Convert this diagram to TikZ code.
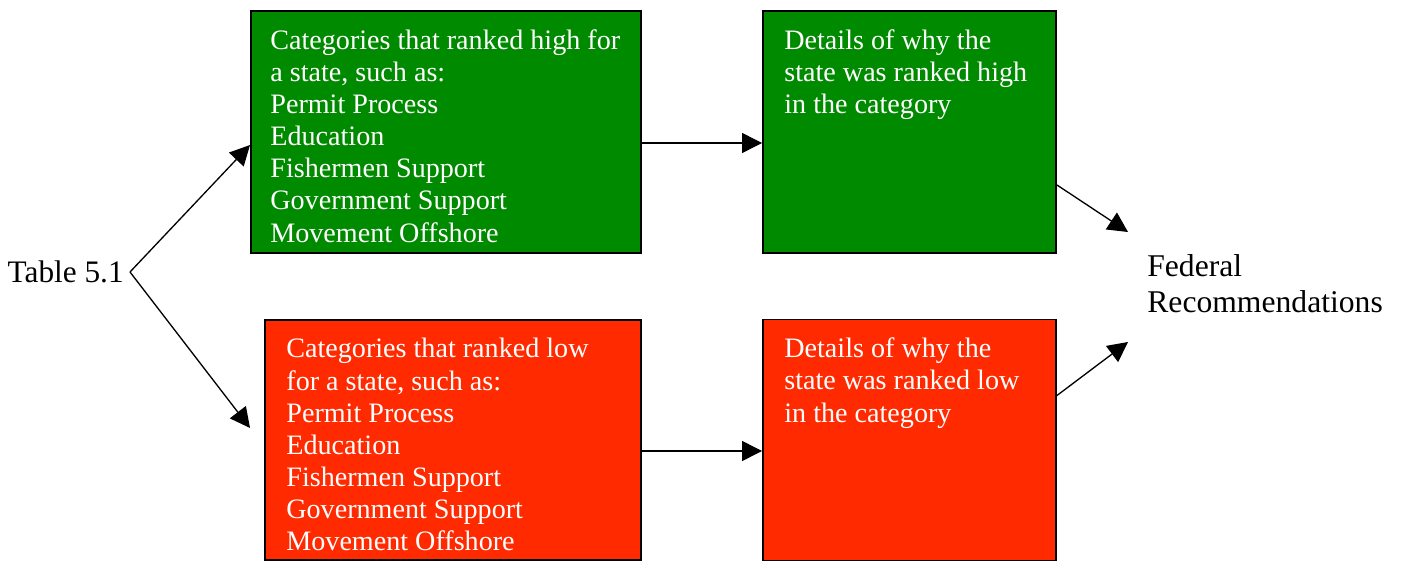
\documentclass[tikz,border=0pt]{standalone}
\usepackage{fontspec}
\setmainfont{Liberation Serif}
\usetikzlibrary{arrows.meta,positioning}
\definecolor{rankgreen}{RGB}{0,138,0}
\definecolor{rankred}{RGB}{255,42,0}

\begin{document}
\begin{tikzpicture}[
    rankbox/.style={draw=black,line width=1.1pt,inner sep=0pt},
    ranktext/.style={text=white,align=left,inner sep=0pt,
      font=\fontsize{16}{18.3}\selectfont},
    arr/.style={line width=0.75pt,-{Triangle[length=0.4cm,width=0.4cm]}}
  ]
  \useasboundingbox (0,0) rectangle (28.02,11.22);

  % the four boxes
  \node[rankbox,fill=rankgreen,minimum width=7.8cm,minimum height=4.84cm] (high) at (8.92,8.58) {};
  \node[rankbox,fill=rankgreen,minimum width=5.86cm,minimum height=4.84cm] (highwhy) at (18.19,8.58) {};
  \node[rankbox,fill=rankred,minimum width=7.52cm,minimum height=4.8cm] (low) at (9.06,2.42) {};
  \node[rankbox,fill=rankred,minimum width=5.86cm,minimum height=4.82cm] (lowwhy) at (18.19,2.42) {};

  \node[ranktext,below right=0.38cm and 0.4cm of high.north west] (hightext)
    {Categories that ranked high for\\a state, such as:\\Permit Process\\Education\\
     Fishermen Support\\Government Support\\Movement Offshore};
  \node[ranktext,below right=0.38cm and 0.44cm of highwhy.north west] (highwhytext)
    {Details of why the\\state was ranked high\\in the category};
  \node[ranktext,below right=0.38cm and 0.44cm of low.north west] (lowtext)
    {Categories that ranked low\\for a state, such as:\\Permit Process\\Education\\
     Fishermen Support\\Government Support\\Movement Offshore};
  \node[ranktext,below right=0.38cm and 0.44cm of lowwhy.north west] (lowwhytext)
    {Details of why the\\state was ranked low\\in the category};

  \node[inner ysep=0pt,inner xsep=0.12cm,anchor=east,font=\fontsize{17.8}{20}\selectfont] (tab) at (2.6,5.78) {Table 5.1};
  \node[inner sep=0pt,anchor=west,align=left,font=\fontsize{18}{20.4}\selectfont] (fed) at (22.94,5.54)
    {Federal\\Recommendations};

  \coordinate (lowtip) at ([xshift=-0.28cm,yshift=0.24cm]low.west);
  \coordinate (fedup) at ([xshift=-0.38cm,yshift=1.04cm]fed.west);
  \coordinate (fedlow) at ([xshift=-0.38cm,yshift=-1.16cm]fed.west);

  % arrows
  \draw[arr] (tab.east) -- ([yshift=-0.26cm]high.west);
  \draw[arr] (tab.east) -- (lowtip);
  \draw[arr] ([yshift=-0.22cm]high.east) -- ([yshift=-0.22cm]highwhy.west);
  \draw[arr] ([yshift=-0.22cm]low.east) -- ([yshift=-0.22cm]lowwhy.west);
  \draw[arr] ([yshift=-1.06cm]highwhy.east) -- (fedup);
  \draw[arr] ([yshift=0.89cm]lowwhy.east) -- (fedlow);

\end{tikzpicture}
\end{document}
